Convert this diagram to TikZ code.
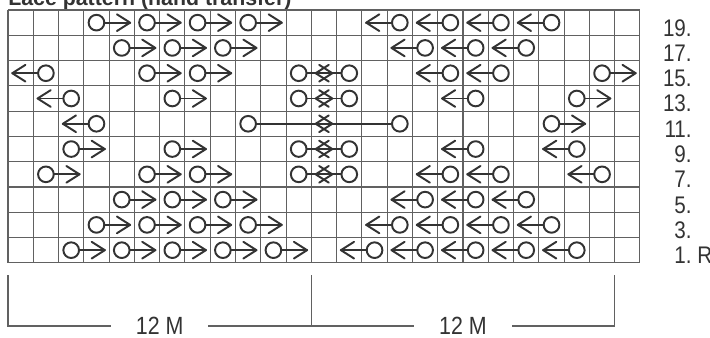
\documentclass[tikz,border=0pt]{standalone}
\usepackage{fontspec}
\setmainfont{Liberation Sans}
\newfontfamily\narrowfont[FakeStretch=0.86]{Liberation Sans}
\usepackage{xcolor}
\usetikzlibrary{arrows.meta}
\definecolor{chartgray}{gray}{0.38}
\definecolor{inkgray}{gray}{0.2}
\tikzset{
    lace_line/.style={draw=inkgray, line width=1.1pt, line join=round, line cap=round},
    rowlabel/.style={anchor=base east, inner sep=0pt, text=inkgray, font=\narrowfont\fontsize{13.5}{15}\selectfont},
    widthlabel/.style={fill=white, inner xsep=0.49cm, inner ysep=1pt, text=inkgray, font=\narrowfont\fontsize{14}{16}\selectfont},
    % Transfer to the right: stitch circle, arrow into the next cell
    lace_right/.pic={
        \draw[lace_line] (0,0) circle (0.31);
        \draw[lace_line] (0.31,0) -- (#1,0);
        \draw[lace_line] (#1-0.52,0.33) -- (#1,0) -- (#1-0.52,-0.33);
    },
    % Transfer to the left
    lace_left/.pic={
        \draw[lace_line] (0,0) circle (0.31);
        \draw[lace_line] (-0.31,0) -- (-#1,0);
        \draw[lace_line] (-#1+0.52,0.33) -- (-#1,0) -- (-#1+0.52,-0.33);
    },
}
\begin{document}
\begin{tikzpicture}[x=0.5cm, y=0.5cm]
    \useasboundingbox (-0.316,-2.967) rectangle (27.77,10.396);

    % Title (cut off at the top edge)
    \node[anchor=base west, inner sep=0pt, text=inkgray, font=\bfseries\fontsize{12}{14}\selectfont] (title) at (0,10.16) {Lace pattern (hand transfer)};

    % Chart grid: 25 stitches x 10 rows
    \draw[chartgray, line width=0.6pt, step=0.5cm] (0,0) grid (25,10);

    % Row 19
    \foreach \c in {3,5,7,9} \pic at (\c+0.5,9.5) {lace_right=1.33};
    \foreach \c in {15,17,19,21} \pic at (\c+0.5,9.5) {lace_left=1.33};
    % Row 17
    \foreach \c in {4,6,8} \pic at (\c+0.5,8.5) {lace_right=1.33};
    \foreach \c in {16,18,20} \pic at (\c+0.5,8.5) {lace_left=1.33};
    % Row 15
    \foreach \c in {5,7,11,23} \pic at (\c+0.5,7.5) {lace_right=1.33};
    \foreach \c in {1,13,17,19} \pic at (\c+0.5,7.5) {lace_left=1.33};
    % Row 13
    \foreach \c in {6,11,22} \pic at (\c+0.5,6.5) {lace_right=1.33};
    \foreach \c in {2,13,18} \pic at (\c+0.5,6.5) {lace_left=1.33};
    % Row 11: long transfers meeting in the centre
    \pic at (9.5,5.5)  {lace_right=3.33};
    \pic at (15.5,5.5) {lace_left=3.33};
    \pic at (21.5,5.5) {lace_right=1.33};
    \pic at (3.5,5.5)  {lace_left=1.33};
    % Row 9
    \foreach \c in {2,6,11} \pic at (\c+0.5,4.5) {lace_right=1.33};
    \foreach \c in {13,18,22} \pic at (\c+0.5,4.5) {lace_left=1.33};
    % Row 7
    \foreach \c in {1,5,7,11} \pic at (\c+0.5,3.5) {lace_right=1.33};
    \foreach \c in {13,17,19,23} \pic at (\c+0.5,3.5) {lace_left=1.33};
    % Row 5
    \foreach \c in {4,6,8} \pic at (\c+0.5,2.5) {lace_right=1.33};
    \foreach \c in {16,18,20} \pic at (\c+0.5,2.5) {lace_left=1.33};
    % Row 3
    \foreach \c in {3,5,7,9} \pic at (\c+0.5,1.5) {lace_right=1.33};
    \foreach \c in {15,17,19,21} \pic at (\c+0.5,1.5) {lace_left=1.33};
    % Row 1
    \foreach \c in {2,4,6,8,10} \pic at (\c+0.5,0.5) {lace_right=1.33};
    \foreach \c in {14,16,18,20,22} \pic at (\c+0.5,0.5) {lace_left=1.33};

    % Row numbers
    \foreach \n in {3,5,...,19} \node[rowlabel] (row\n) at (27.06,{(\n-1)/2-0.03}) {\n.};
    \node[rowlabel] (row1) at (27.06,-0.03) {1.\rlap{\ R}};

    % Width brackets
    \coordinate (brL) at (0,-0.5);
    \coordinate (brM) at (12,-0.5);
    \coordinate (brR) at (24,-0.5);
    \draw[chartgray, line width=0.6pt] (brL) -- ++(0,-2) -| (brR);
    \draw[chartgray, line width=0.6pt] (brM) -- ++(0,-2);
    \node[widthlabel] (wleft)  at (6,-2.5)  {12 M};
    \node[widthlabel] (wright) at (18,-2.5) {12 M};
\end{tikzpicture}
\end{document}
